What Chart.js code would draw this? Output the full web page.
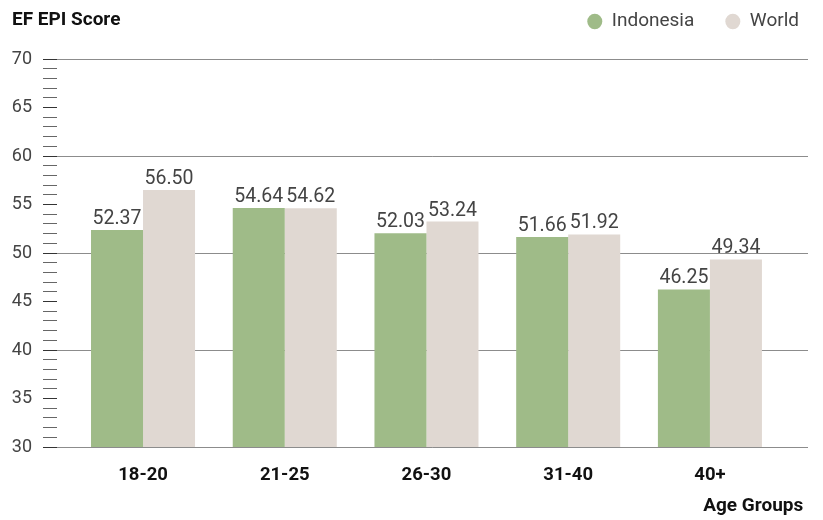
<!DOCTYPE html>
<html>
<head>
<meta charset="utf-8">
<script src="https://cdn.jsdelivr.net/npm/chart.js@4.4.0/dist/chart.umd.min.js"></script>
<style>
  html, body { margin: 0; background: #fff; }
  #wrap { width: 823px; height: 520px; }
</style>
</head>
<body>
<div id="wrap"><canvas id="chart"></canvas></div>
<script>
// EF EPI score by age group, Indonesia vs World
const AGE_GROUPS = ["18-20", "21-25", "26-30", "31-40", "40+"];
const INDONESIA = [52.37, 54.64, 52.03, 51.66, 46.25];
const WORLD = [56.50, 54.62, 53.24, 51.92, 49.34];
const SERIES_NAMES = ["Indonesia", "World"];

const COLORS = {
  indonesia: "#9fbb88",
  world: "#e0d8d2",
  grid: "rgba(0,0,0,0.45)",
  text: "#444",
  dark: "#111",
};
const FONT = "Roboto";

// x is linear so the plot can run past the outer bars like the original
const X_MIN = -0.607, X_MAX = 4.692;

const toPoints = (arr) => arr.map((v, i) => ({ x: i, y: v }));

// value labels above each bar
const valueLabels = {
  id: "valueLabels",
  afterDatasetsDraw(chart) {
    const ctx = chart.ctx;
    ctx.save();
    ctx.font = `19.5px ${FONT}`;
    ctx.fillStyle = COLORS.text;
    ctx.textAlign = "center";
    ctx.textBaseline = "alphabetic";
    chart.data.datasets.forEach((ds, di) => {
      chart.getDatasetMeta(di).data.forEach((bar, i) => {
        ctx.fillText(ds.data[i].y.toFixed(2), bar.x, bar.y - 6);
      });
    });
    ctx.restore();
  },
};

// "EF EPI Score" in the top-left corner; also lift the legend into that row
const cornerTitle = {
  id: "cornerTitle",
  afterLayout(chart) {
    const lg = chart.legend;
    lg.top = -19;
    lg.left += 22;
    lg.right += 22;
  },
  afterDraw(chart) {
    const ctx = chart.ctx;
    ctx.save();
    ctx.font = `bold 19px ${FONT}`;
    ctx.fillStyle = COLORS.dark;
    ctx.textAlign = "left";
    ctx.textBaseline = "middle";
    ctx.fillText("EF EPI Score", 12, 20);
    ctx.restore();
  },
};

new Chart(document.getElementById("chart"), {
  type: "bar",
  data: {
    datasets: [
      { label: SERIES_NAMES[0], data: toPoints(INDONESIA), backgroundColor: COLORS.indonesia },
      { label: SERIES_NAMES[1], data: toPoints(WORLD), backgroundColor: COLORS.world },
    ],
  },
  options: {
    responsive: true,
    maintainAspectRatio: false,
    animation: false,
    layout: { padding: { left: 0, right: 15, top: -1, bottom: 0 } },
    datasets: { bar: { categoryPercentage: 0.734, barPercentage: 1 } },
    plugins: {
      legend: {
        position: "top",
        align: "end",
        labels: {
          usePointStyle: true,
          pointStyle: "circle",
          pointStyleWidth: 15,
          boxHeight: 11,
          color: COLORS.text,
          font: { family: FONT, size: 19 },
          padding: 31,
        },
      },
      tooltip: { enabled: false },
    },
    scales: {
      x: {
        type: "linear",
        min: X_MIN,
        max: X_MAX,
        offset: false,
        grid: { display: false },
        border: { display: false },
        afterBuildTicks: (s) => { s.ticks = AGE_GROUPS.map((_, i) => ({ value: i })); },
        afterFit: (s) => { s.height = 73; },
        ticks: {
          padding: 9,
          color: COLORS.dark,
          font: { family: FONT, size: 18.5, weight: "bold" },
          callback: (v) => AGE_GROUPS[v] ?? "",
        },
        title: {
          display: true,
          text: "Age Groups ",
          align: "end",
          color: COLORS.dark,
          font: { family: FONT, size: 19, weight: "bold" },
          padding: { top: 0, bottom: 2 },
        },
      },
      y: {
        min: 30,
        max: 70,
        z: 1,
        border: { display: false },
        afterFit: (s) => { s.width = 57; },
        grid: {
          color: (c) => (c.tick && c.tick.value % 10 === 0 ? COLORS.grid : "transparent"),
          tickColor: (c) => (c.tick && c.tick.value % 5 === 0 ? "#333" : "#666"),
          tickLength: 14,
          lineWidth: 1,
        },
        ticks: {
          stepSize: 1,
          autoSkip: false,
          maxTicksLimit: 100,
          padding: 11,
          color: COLORS.text,
          font: { family: FONT, size: 18 },
          callback: (v) => (v % 5 === 0 ? v : ""),
        },
      },
    },
  },
  plugins: [valueLabels, cornerTitle],
});
</script>
</body>
</html>
